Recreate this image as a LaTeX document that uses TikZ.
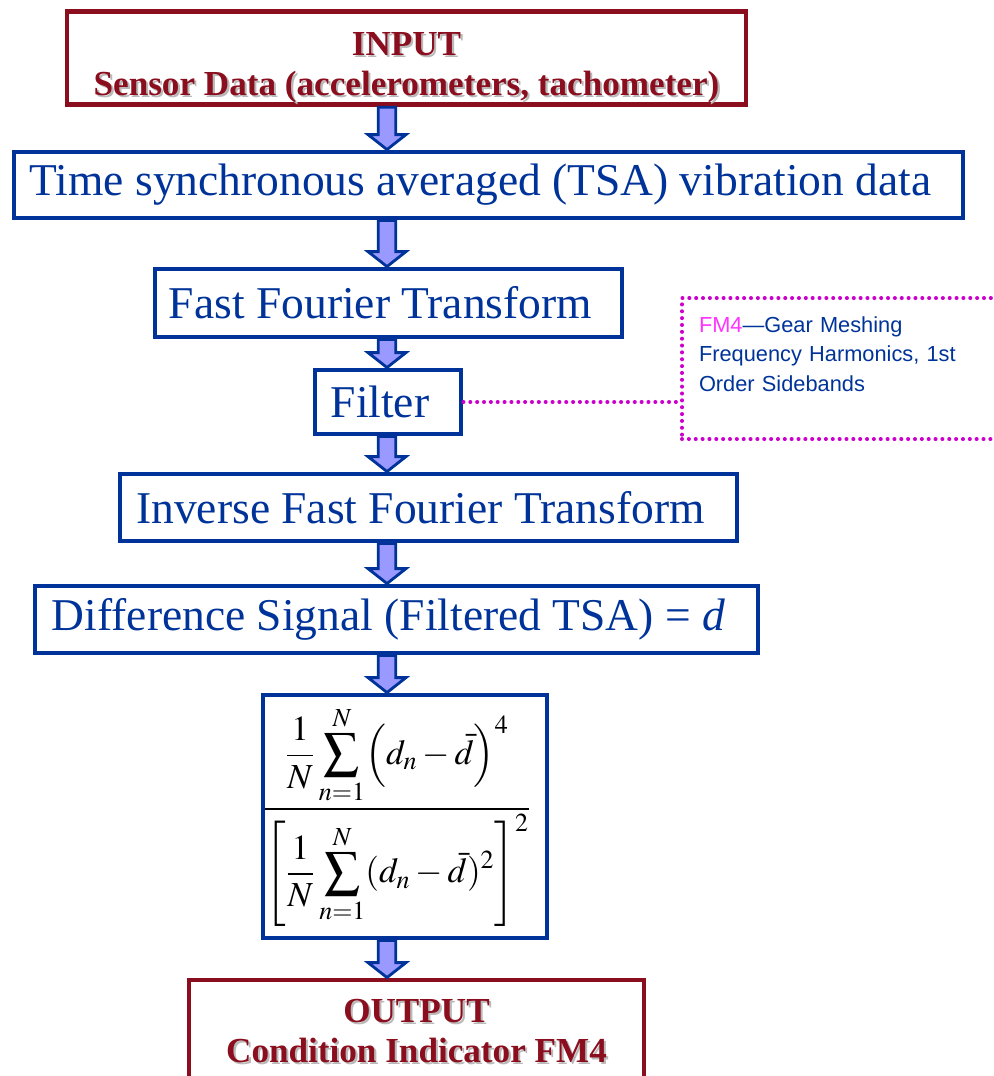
\documentclass[tikz,border=0pt]{standalone}
\usepackage{amsmath}
\usepackage{mathptmx}
\usepackage{fontspec}
\setmainfont{Liberation Serif}
\newfontfamily\notefont{Liberation Sans}
\usetikzlibrary{calc}

\definecolor{boxblue}{RGB}{0,51,153}
\definecolor{boxred}{RGB}{139,14,30}
\definecolor{arrowfill}{RGB}{153,153,255}
\definecolor{dotpink}{RGB}{204,0,204}
\definecolor{fmpink}{RGB}{255,51,255}
\definecolor{shadowgray}{RGB}{185,185,185}

% one pixel of the layout grid
\newdimen\px \px=0.02cm

% text with a soft grey drop shadow
\newcommand{\shadowed}[1]{\makebox[0pt][l]{\kern1.2pt\raisebox{-1.2pt}{\textcolor{shadowgray}{#1}}}#1}

% block arrow from one box down to the next
\newcommand{\flowarrow}[2]{
    \draw[flowarrow] let \p1=(#1.south -| spine), \p2=(#2.north -| spine) in
        (\x1-5pt,\y1) -- (\x1-5pt,\y2+8.5pt) -- (\x1-10.8pt,\y2+8.5pt) -- (\x2,\y2)
        -- (\x1+10.8pt,\y2+8.5pt) -- (\x1+5pt,\y2+8.5pt) -- (\x1+5pt,\y1) -- cycle;
}

\tikzset{
    stagebox/.style={draw=boxblue, line width=2.8pt, text=boxblue, inner sep=0pt,
        font=\fontsize{25.9}{30}\selectfont, execute at end node=\hspace*{16\px}},
    endbox/.style={draw=boxred, line width=2.8pt, text=boxred, inner sep=0pt, align=center,
        font=\bfseries\fontsize{20}{22.7}\selectfont},
    flowarrow/.style={draw=boxblue, fill=arrowfill, line width=1.6pt, line join=miter},
    notedots/.style={draw=dotpink, line width=2.3pt, dash pattern=on 0pt off 3.9pt, line cap=round},
}

\begin{document}
\begin{tikzpicture}[x=0.02cm, y=-0.02cm]
    \useasboundingbox (0,0) rectangle (994,1076);
    \coordinate (spine) at (387,0);

    \node[endbox, minimum width=679\px, minimum height=88\px] (input) at (406.5,58)
        {\rule{0pt}{25pt}\shadowed{INPUT}\\\shadowed{Sensor Data (accelerometers, tachometer)}};
    \node[stagebox, minimum width=949\px, minimum height=66\px] (tsa) at (488.5,185)
        {Time synchronous averaged (TSA) vibration data};
    \node[stagebox, minimum width=467\px, minimum height=68\px] (fft) at (388.5,303)
        {Fast Fourier Transform};
    \node[stagebox, minimum width=146\px, minimum height=64\px] (filter) at (388,402)
        {Filter};
    \node[stagebox, minimum width=617\px, minimum height=67\px] (ifft) at (428.5,507.5)
        {Inverse Fast Fourier Transform};
    \node[stagebox, minimum width=723\px, minimum height=67\px] (diff) at (396.5,619.5)
        {Difference Signal (Filtered TSA) = \textit{d}};
    \node[stagebox, text=black, execute at end node={}, minimum width=276\px, minimum height=243\px]
        (formula) at (405,816.5)
        {\fontsize{20}{24}\selectfont
         $\dfrac{\displaystyle\frac{1}{N}\sum_{n=1}^{N}\Bigl(d_n-\bar{d}\Bigr)^4}
                {\displaystyle\left[\frac{1}{N}\sum_{n=1}^{N}(d_n-\bar{d})^2\right]^2}$};
    \node[endbox, minimum width=455\px, minimum height=104\px] (output) at (416.5,1032)
        {\shadowed{OUTPUT}\\\shadowed{Condition Indicator FM4}};

    % note on the filter
    \node[notedots, anchor=north west, text=boxblue, align=left, text width=300\px,
        inner xsep=17\px, inner ysep=0pt, text height=34\px, text depth=107\px,
        font=\notefont\fontsize{12.4}{17}\selectfont] (note) at (680,296)
        {\textcolor{fmpink}{FM4}—Gear Meshing\\Frequency Harmonics, 1st\\Order Sidebands};
    \draw[notedots] (filter.east) -- (filter.east -| note.west);

    \foreach \a/\b in {input/tsa, tsa/fft, fft/filter, filter/ifft, ifft/diff, diff/formula, formula/output}
        {\flowarrow{\a}{\b}}
\end{tikzpicture}
\end{document}
